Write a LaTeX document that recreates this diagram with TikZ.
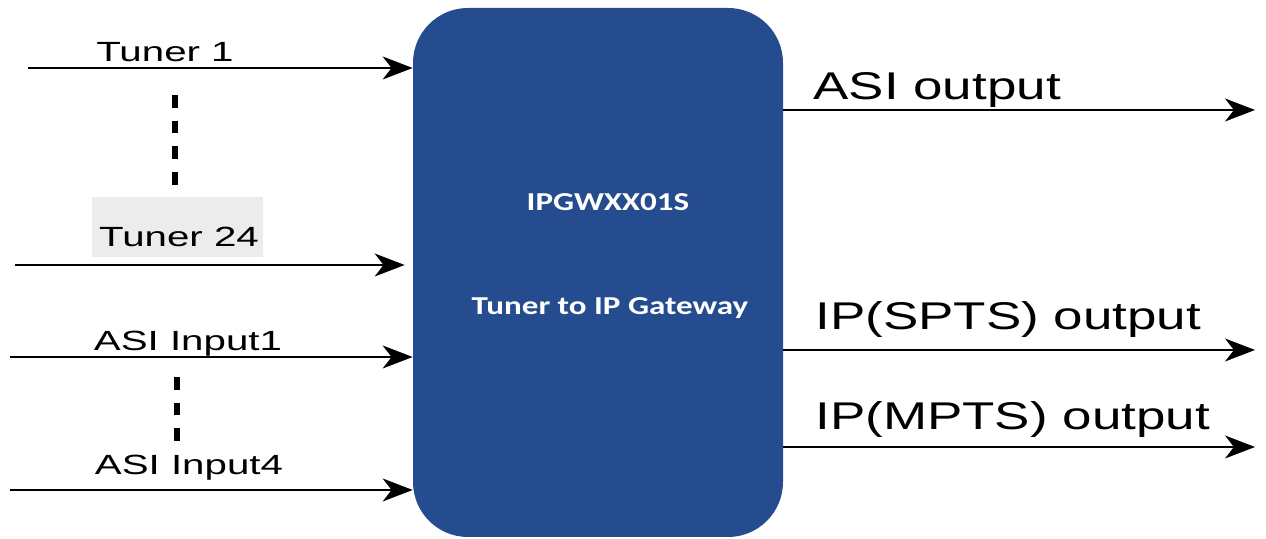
\documentclass[tikz,border=0pt]{standalone}
\usepackage{fontspec}
\setmainfont{Liberation Sans}
\newfontfamily\boxfont{Carlito}
\usepackage{tikz}
\usetikzlibrary{arrows.meta}
\definecolor{gwblue}{RGB}{37,76,142}

\begin{document}
\begin{tikzpicture}[>={Stealth[length=17pt,width=13pt,inset=5pt]}]
	\tikzset{
		sig/.style={->,line width=1.6pt},
		inlabel/.style={font=\fontsize{15.8}{19}\selectfont, xscale=1.45, inner sep=0pt, anchor=base},
		outlabel/.style={font=\fontsize{22}{26}\selectfont, xscale=1.37, inner sep=0pt, anchor=base west},
		gwtext/.style={text=white, font=\boxfont\bfseries\fontsize{14.7}{18}\selectfont, xscale=1.28, inner sep=0pt},
		more/.style={line width=3.8pt, dash pattern=on 7.3pt off 7.3pt},
	}
	\useasboundingbox (0,0) rectangle (25.32,10.78);

	% gateway
	\node[fill=gwblue, rounded corners=1.1cm, minimum width=7.4cm, minimum height=10.58cm, inner sep=0pt] (gw) at (11.96,5.33) {};
	\node[gwtext] (name) at (12.16,6.74) {IPGWXX01S};
	\node[gwtext] (desc) at (12.2,4.62) {Tuner to IP Gateway};

	% inputs
	\fill[gray!15] (1.84,5.64) rectangle (5.26,6.84);
	\node[inlabel] (t1l) at (3.3,9.54) {Tuner 1};
	\node[inlabel] (t24l) at (3.58,5.84) {Tuner 24};
	\node[inlabel] (a1l) at (3.76,3.76) {ASI Input1};
	\node[inlabel] (a4l) at (3.78,1.28) {ASI Input4};

	\coordinate (t1) at (0.56,9.42);
	\coordinate (t24) at (0.3,5.48);
	\coordinate (a1) at (0.2,3.64);
	\coordinate (a4) at (0.2,0.98);

	\draw[sig] (t1) -- (t1 -| gw.west);
	\draw[sig] (t24) -- ([xshift=-0.16cm]t24 -| gw.west);
	\draw[sig] (a1) -- (a1 -| gw.west);
	\draw[sig] (a4) -- (a4 -| gw.west);

	\draw[more] (3.5,8.88) -- (3.5,7.08);
	\draw[more] (3.54,3.24) -- (3.54,1.88);

	% outputs
	\coordinate (asio) at (25.1,8.58);
	\coordinate (spts) at (25.1,3.78);
	\coordinate (mpts) at (25.1,1.84);

	\draw[sig] (asio -| gw.east) -- (asio);
	\draw[sig] (spts -| gw.east) -- (spts);
	\draw[sig] (mpts -| gw.east) -- (mpts);

	\node[outlabel] (asiol) at (16.26,8.78) {ASI output};
	\node[outlabel] (sptsl) at (16.3,4.18) {IP(SPTS) output};
	\node[outlabel] (mptsl) at (16.3,2.18) {IP(MPTS) output};
\end{tikzpicture}
\end{document}
